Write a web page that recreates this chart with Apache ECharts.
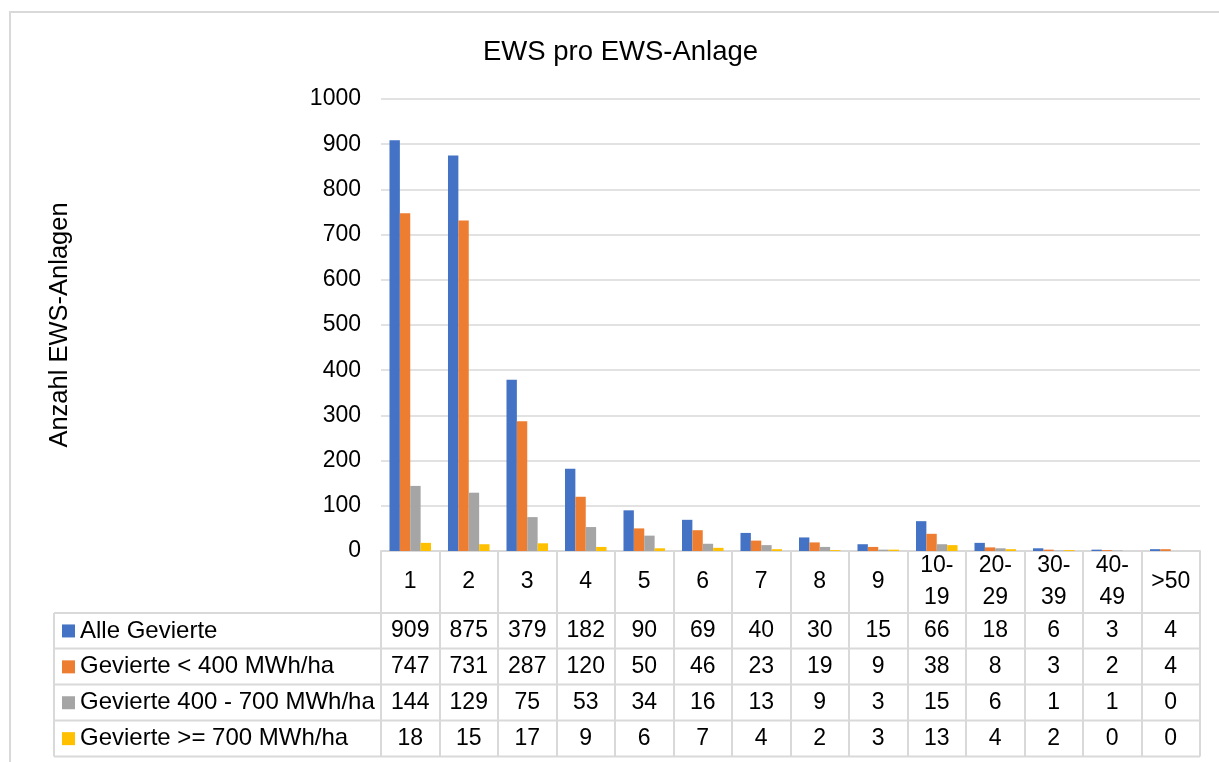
<!DOCTYPE html>
<html>
<head>
<meta charset="utf-8">
<script src="https://cdn.jsdelivr.net/npm/echarts@6/dist/echarts.min.js"></script>
<style>
  html, body { margin: 0; padding: 0; background: #fff; }
  #chart { width: 1219px; height: 762px; }
</style>
</head>
<body>
<div id="chart"></div>
<script>
// Kategorien (Anzahl EWS pro Anlage)
const categories = ['1', '2', '3', '4', '5', '6', '7', '8', '9', '10-19', '20-29', '30-39', '40-49', '>50']
// Serien
const seriesNames = ['Alle Gevierte', 'Gevierte < 400 MWh/ha', 'Gevierte 400 - 700 MWh/ha', 'Gevierte >= 700 MWh/ha']
const alleGevierte = [909, 875, 379, 182, 90, 69, 40, 30, 15, 66, 18, 6, 3, 4]
const gevierteUnter400 = [747, 731, 287, 120, 50, 46, 23, 19, 9, 38, 8, 3, 2, 4]
const gevierte400bis700 = [144, 129, 75, 53, 34, 16, 13, 9, 3, 15, 6, 1, 1, 0]
const gevierteAb700 = [18, 15, 17, 9, 6, 7, 4, 2, 3, 13, 4, 2, 0, 0]
const yTicks = { min: 0, max: 1000, interval: 100 }

const colors = ['#4472C4', '#ED7D31', '#A5A5A5', '#FFC000']
const rows = [alleGevierte, gevierteUnter400, gevierte400bis700, gevierteAb700]

const FONT = 'Liberation Sans, Arial, sans-serif'
const LINE = '#D9D9D9'

// Geometrie der Datentabelle
const gridLeft = 381
const gridRight = 1200
const axisY = 551
const rowTops = [613, 648.5, 684.5, 720.5, 756.5]

let chart = echarts.init(document.getElementById('chart'))

// je Zeile der Tabelle eine unsichtbare Kategorie-Achse, die nur die Werte beschriftet
const rowAxes = rows.map((vals, r) => ({
  type: 'category',
  data: categories,
  gridIndex: 0,
  position: 'bottom',
  axisLine: { show: false },
  axisTick: { show: false },
  axisLabel: {
    interval: 0,
    margin: (rowTops[r] + rowTops[r + 1]) / 2 - axisY,
    verticalAlign: 'middle',
    fontSize: 23,
    fontFamily: FONT,
    color: '#000',
    formatter: (v, i) => String(vals[i]),
  },
}))

const hLines = rowTops.map(y => ({
  type: 'line',
  shape: { x1: 54, y1: y, x2: gridRight, y2: y },
  style: { stroke: LINE, lineWidth: 2 },
  silent: true,
}))

chart.setOption({
  animation: false,
  color: colors,
  title: {
    text: 'EWS pro EWS-Anlage',
    left: 478,
    top: 33,
    textStyle: { fontSize: 27.5, fontWeight: 'normal', fontFamily: FONT, color: '#000' },
  },
  legend: {
    orient: 'vertical',
    left: 62,
    top: rowTops[0],
    padding: 0,
    itemGap: 0,
    itemWidth: 13,
    itemHeight: 13,
    icon: 'rect',
    selectedMode: false,
    data: seriesNames,
    textStyle: { fontSize: 24, fontFamily: FONT, color: '#000', lineHeight: 35.9 },
  },
  grid: {
    left: gridLeft,
    right: 1219 - gridRight,
    top: 99,
    bottom: 762 - axisY,
  },
  xAxis: [
    {
      type: 'category',
      data: categories,
      position: 'bottom',
      axisLine: { show: true, lineStyle: { color: LINE, width: 2 } },
      axisTick: {
        show: true,
        interval: 0,
        length: rowTops[4] - axisY,
        lineStyle: { color: LINE, width: 2 },
      },
      axisLabel: {
        interval: 0,
        margin: (axisY + rowTops[0]) / 2 - axisY,
        verticalAlign: 'middle',
        fontSize: 23,
        lineHeight: 32,
        fontFamily: FONT,
        color: '#000',
        formatter: v => v.replace('-', '-\n'),
      },
    },
    ...rowAxes,
  ],
  yAxis: {
    type: 'value',
    min: yTicks.min,
    max: yTicks.max,
    interval: yTicks.interval,
    name: 'Anzahl EWS-Anlagen',
    nameLocation: 'middle',
    nameRotate: 90,
    nameGap: 308,
    nameTextStyle: { fontSize: 25.5, fontFamily: FONT, color: '#000' },
    axisLine: { show: false },
    axisTick: { show: false },
    axisLabel: { margin: 20, fontSize: 23, fontFamily: FONT, color: '#000', formatter: v => String(v) },
    splitLine: { lineStyle: { color: LINE, width: 1.5 } },
  },
  series: rows.map((vals, i) => ({
    name: seriesNames[i],
    type: 'bar',
    data: vals,
    barGap: '0%',
    barCategoryGap: '29%',
    itemStyle: { color: colors[i] },
  })),
  graphic: [
    // Rahmen des Diagrammbereichs
    {
      type: 'rect',
      shape: { x: 10, y: 12, width: 1300, height: 900 },
      style: { fill: 'none', stroke: LINE, lineWidth: 2 },
      silent: true,
    },
    ...hLines,
    {
      type: 'line',
      shape: { x1: 54, y1: rowTops[0], x2: 54, y2: rowTops[4] },
      style: { stroke: LINE, lineWidth: 2 },
      silent: true,
    },
  ],
})

window.addEventListener('resize', () => chart.resize())
</script>
</body>
</html>
